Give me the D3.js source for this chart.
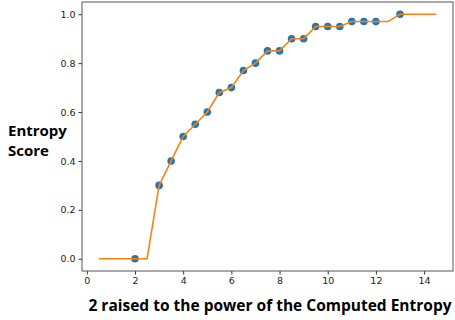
<!DOCTYPE html>
<html>
<head>
<meta charset="utf-8">
<script src="https://cdn.jsdelivr.net/npm/d3@7"></script>
<style>
  body { margin: 0; background: #fff; }
</style>
</head>
<body>
<script>
// curve (orange line)
const lineX = [0.5, 1, 1.5, 2, 2.5, 3, 3.5, 4, 4.5, 5, 5.5, 6, 6.5, 7, 7.5, 8, 8.5, 9, 9.5, 10, 10.5, 11, 11.5, 12, 12.5, 13, 13.5, 14, 14.5]
const lineY = [0, 0, 0, 0, 0, 0.3, 0.4, 0.5, 0.55, 0.6, 0.68, 0.7, 0.77, 0.8, 0.85, 0.85, 0.9, 0.9, 0.95, 0.95, 0.95, 0.97, 0.97, 0.97, 0.97, 1, 1, 1, 1]

// measured points (blue dots)
const pointX = [2, 3, 3.5, 4, 4.5, 5, 5.5, 6, 6.5, 7, 7.5, 8, 8.5, 9, 9.5, 10, 10.5, 11, 11.5, 12, 13]
const pointY = [0, 0.3, 0.4, 0.5, 0.55, 0.6, 0.68, 0.7, 0.77, 0.8, 0.85, 0.85, 0.9, 0.9, 0.95, 0.95, 0.95, 0.97, 0.97, 0.97, 1]

const xTicks = [0, 2, 4, 6, 8, 10, 12, 14]
const yTicks = [0, 0.2, 0.4, 0.6, 0.8, 1.0]

const width = 455
const height = 320
const frame = { left: 82, right: 453, top: 2, bottom: 271 }

const blue = '#1f77b4'
const orange = '#ff7f0e'
const tickFont = '"DejaVu Sans", sans-serif'
const labelFont = '"Open Sans", sans-serif'

const svg = d3.select('body')
  .append('svg')
  .attr('width', width)
  .attr('height', height)

const xScale = d3.scaleLinear()
  .domain([-0.2, 15.2])
  .range([frame.left, frame.right])

const yScale = d3.scaleLinear()
  .domain([-0.05, 1.05])
  .range([frame.bottom, frame.top])

// axes
const xAxisG = svg.append('g')
  .attr('transform', `translate(0,${frame.bottom})`)
  .call(d3.axisBottom(xScale).tickValues(xTicks).tickSize(3.5).tickPadding(3).tickFormat(d3.format('d')))

const yAxisG = svg.append('g')
  .attr('transform', `translate(${frame.left},0)`)
  .call(d3.axisLeft(yScale).tickValues(yTicks).tickSize(3.5).tickPadding(3).tickFormat(d3.format('.1f')))

;[xAxisG, yAxisG].forEach(a => {
  a.select('.domain').remove()
  a.selectAll('.tick line').style('stroke', '#333')
  a.selectAll('.tick text')
    .style('font-family', tickFont)
    .style('font-size', '9.5px')
    .style('fill', '#222')
})

// frame
svg.append('rect')
  .attr('x', frame.left)
  .attr('y', frame.top)
  .attr('width', frame.right - frame.left)
  .attr('height', frame.bottom - frame.top)
  .style('fill', 'none')
  .style('stroke', '#555')
  .style('stroke-width', 1)

const line = d3.line()
  .x((d, i) => xScale(lineX[i]))
  .y((d, i) => yScale(lineY[i]))

svg.selectAll('.dot')
  .data(pointX)
  .enter()
  .append('circle')
  .attr('class', 'dot')
  .attr('cx', (d, i) => xScale(pointX[i]))
  .attr('cy', (d, i) => yScale(pointY[i]))
  .attr('r', 3.8)
  .style('fill', blue)

svg.append('path')
  .datum(lineX)
  .attr('d', line)
  .style('fill', 'none')
  .style('stroke', orange)
  .style('stroke-width', 1.6)

// axis labels
svg.append('text')
  .attr('x', 270)
  .attr('y', 311)
  .style('text-anchor', 'middle')
  .style('font-family', labelFont)
  .style('font-weight', 'bold')
  .style('font-size', '15.5px')
  .style('fill', '#000')
  .text('2 raised to the power of the Computed Entropy')

const yLabel = svg.append('text')
  .style('font-family', labelFont)
  .style('font-weight', 'bold')
  .style('font-size', '15px')
  .style('fill', '#000')
yLabel.append('tspan').attr('x', 8).attr('y', 136).text('Entropy')
yLabel.append('tspan').attr('x', 8).attr('y', 156).text('Score')
</script>
</body>
</html>
